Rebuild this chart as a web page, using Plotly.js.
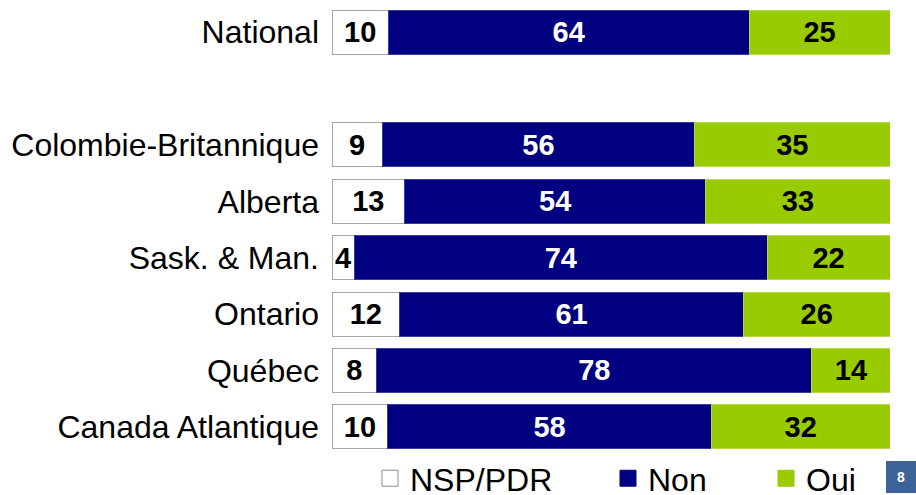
<!DOCTYPE html>
<html>
<head>
<meta charset="utf-8">
<script src="https://cdn.plot.ly/plotly-3.0.1.min.js"></script>
<style>html,body{margin:0;padding:0;background:#fff;}#chart{width:916px;height:495px;}</style>
</head>
<body>
<div id="chart"></div>
<script>
const categories = ["National", " ", "Colombie-Britannique", "Alberta", "Sask. & Man.", "Ontario", "Québec", "Canada Atlantique"];
const nspValues = [10, null, 9, 13, 4, 12, 8, 10];
const nonValues = [64, null, 56, 54, 74, 61, 78, 58];
const ouiValues = [25, null, 35, 33, 22, 26, 14, 32];
const seriesNames = ["NSP/PDR", "Non", "Oui"];
const pageNumber = "8";

const FONT = "Liberation Sans, Arial, sans-serif";

function barTrace(name, vals, fill, lineColor, textColor) {
  return {
    type: "bar", orientation: "h", name: name,
    y: categories, x: vals,
    text: vals.map(v => v == null ? "" : String(v)),
    texttemplate: "%{text}",
    textposition: "inside", insidetextanchor: "middle",
    textfont: {family: FONT, size: 29, color: textColor, weight: "bold"},
    marker: {color: fill, line: {color: lineColor, width: 1}},
    width: 0.78, showlegend: false, hoverinfo: "skip", cliponaxis: false
  };
}
function legendTrace(name, fill, lineColor, legendWidth) {
  return {
    type: "scatter", mode: "markers", name: name, x: [null], y: [null],
    marker: {symbol: "square", size: 16, color: fill, line: {color: lineColor, width: 1}},
    showlegend: true, hoverinfo: "skip", legendwidth: legendWidth
  };
}

const data = [
  barTrace(seriesNames[0], nspValues, "#FFFFFF", "#A6A6A6", "#000000"),
  barTrace(seriesNames[1], nonValues, "#000080", "#3A3A9A", "#FFFFFF"),
  barTrace(seriesNames[2], ouiValues, "#99CC00", "#B5D94A", "#000000"),
  legendTrace(seriesNames[0], "#FFFFFF", "#8C8C8C", 193),
  legendTrace(seriesNames[1], "#000080", "#000080", 113),
  legendTrace(seriesNames[2], "#99CC00", "#99CC00", 80)
];

const layout = {
  width: 916, height: 495,
  margin: {l: 332, r: 26, t: 4, b: 40, autoexpand: false},
  paper_bgcolor: "#FFFFFF", plot_bgcolor: "#FFFFFF",
  barmode: "stack", barnorm: "percent",
  uniformtext: {minsize: 29, mode: "show"},
  font: {family: FONT, color: "#000000"},
  xaxis: {range: [0, 100], visible: false, showgrid: false, zeroline: false, fixedrange: true},
  yaxis: {
    type: "category", categoryorder: "array", categoryarray: categories,
    autorange: "reversed", showgrid: false, zeroline: false, showline: false,
    ticks: "", ticklabelstandoff: 12,
    tickfont: {family: FONT, size: 32, color: "#000000"}
  },
  legend: {
    orientation: "h", x: (370 - 332) / 558, xanchor: "left",
    y: 0.009, yanchor: "top", yref: "paper",
    font: {family: FONT, size: 32, color: "#000000"},
    bgcolor: "rgba(0,0,0,0)", traceorder: "normal"
  },
  shapes: [{
    type: "rect", xref: "paper", yref: "paper",
    x0: (886 - 332) / 558, x1: (916 - 332) / 558,
    y0: -(461 - 455) / 451, y1: -(493 - 455) / 451,
    fillcolor: "#3D6499", line: {width: 0}
  }],
  annotations: [{
    xref: "paper", yref: "paper",
    x: (901 - 332) / 558, y: -(477 - 455) / 451,
    text: "<b>" + pageNumber + "</b>", showarrow: false,
    font: {family: FONT, size: 14, color: "#FFFFFF"},
    xanchor: "center", yanchor: "middle"
  }]
};

Plotly.newPlot("chart", data, layout, {displayModeBar: false, staticPlot: true});
</script>
</body>
</html>
